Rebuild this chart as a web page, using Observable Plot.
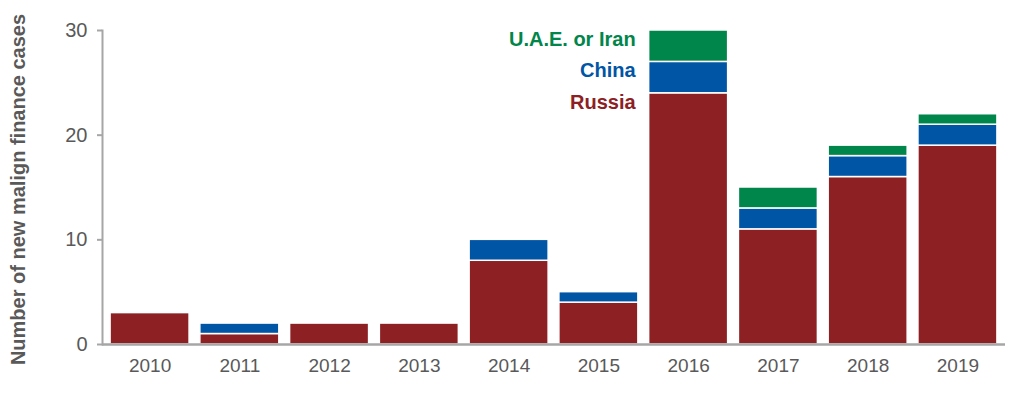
<!DOCTYPE html>
<html>
<head>
<meta charset="utf-8">
<script src="https://cdn.jsdelivr.net/npm/d3@7"></script>
<script src="https://cdn.jsdelivr.net/npm/@observablehq/plot@0.6"></script>
<style>
  html, body { margin: 0; padding: 0; background: #fff; }
  #chart svg { display: block; }
</style>
</head>
<body>
<div id="chart"></div>
<script>
const years = ["2010","2011","2012","2013","2014","2015","2016","2017","2018","2019"];
const seriesNames = ["Russia", "China", "U.A.E. or Iran"];
const russia = [3, 1, 2, 2, 8, 4, 24, 11, 16, 19];
const china  = [0, 1, 0, 0, 2, 1, 3, 2, 2, 2];
const uae    = [0, 0, 0, 0, 0, 0, 3, 2, 1, 1];
const colors = ["#8C2023", "#0055A5", "#00854A"];
const yTicks = [0, 10, 20, 30];
const yTitle = "Number of new malign finance cases";
const labelYear = "2016";

const values = [russia, china, uae];
const rows = [];
years.forEach((yr, i) => {
  seriesNames.forEach((s, j) => {
    if (values[j][i] > 0) rows.push({year: yr, series: s, value: values[j][i]});
  });
});

// labels at the top of each segment of the 2016 stack
const li = years.indexOf(labelYear);
let cum = 0;
const labels = seriesNames.map((s, j) => {
  cum += values[j][li];
  return {year: labelYear, series: s, top: cum};
});

const font = "Liberation Sans, Arial, Helvetica, sans-serif";

const chart = Plot.plot({
  width: 1024,
  height: 408,
  marginLeft: 102,
  marginRight: 19,
  marginTop: 30,
  marginBottom: 64,
  style: {fontFamily: font, background: "#fff"},
  x: {domain: years, paddingInner: 0.12, paddingOuter: 0.09, round: false, label: null},
  y: {domain: [0, 30], label: null},
  color: {domain: seriesNames, range: colors},
  marks: [
    Plot.barY(rows, Plot.stackY({
      x: "year", y: "value", fill: "series",
      order: seriesNames,
      stroke: "white", strokeWidth: 1.5
    })),
    Plot.frame({anchor: "left", stroke: "#A6A6A6", strokeWidth: 2}),
    Plot.ruleY([0], {stroke: "#A6A6A6", strokeWidth: 2.5}),
    Plot.axisY({ticks: yTicks, tickSize: 5, tickPadding: 10, stroke: "#A6A6A6", fill: "#595959", fontSize: 20, label: null, strokeWidth: 2}),
    Plot.axisX({tickSize: 0, tickPadding: 14, fill: "#595959", fontSize: 19, label: null}),
    Plot.text([yTitle], {frameAnchor: "left", textAnchor: "middle", rotate: -90, dx: -84, dy: 2, fill: "#595959", fontSize: 20, fontWeight: "bold"}),
    Plot.text(labels, {
      x: "year", y: "top", text: "series", fill: "series",
      textAnchor: "end", lineAnchor: "middle", dx: -53, dy: 9,
      fontSize: 20, fontWeight: "bold"
    })
  ]
});
document.getElementById("chart").appendChild(chart);
</script>
</body>
</html>
